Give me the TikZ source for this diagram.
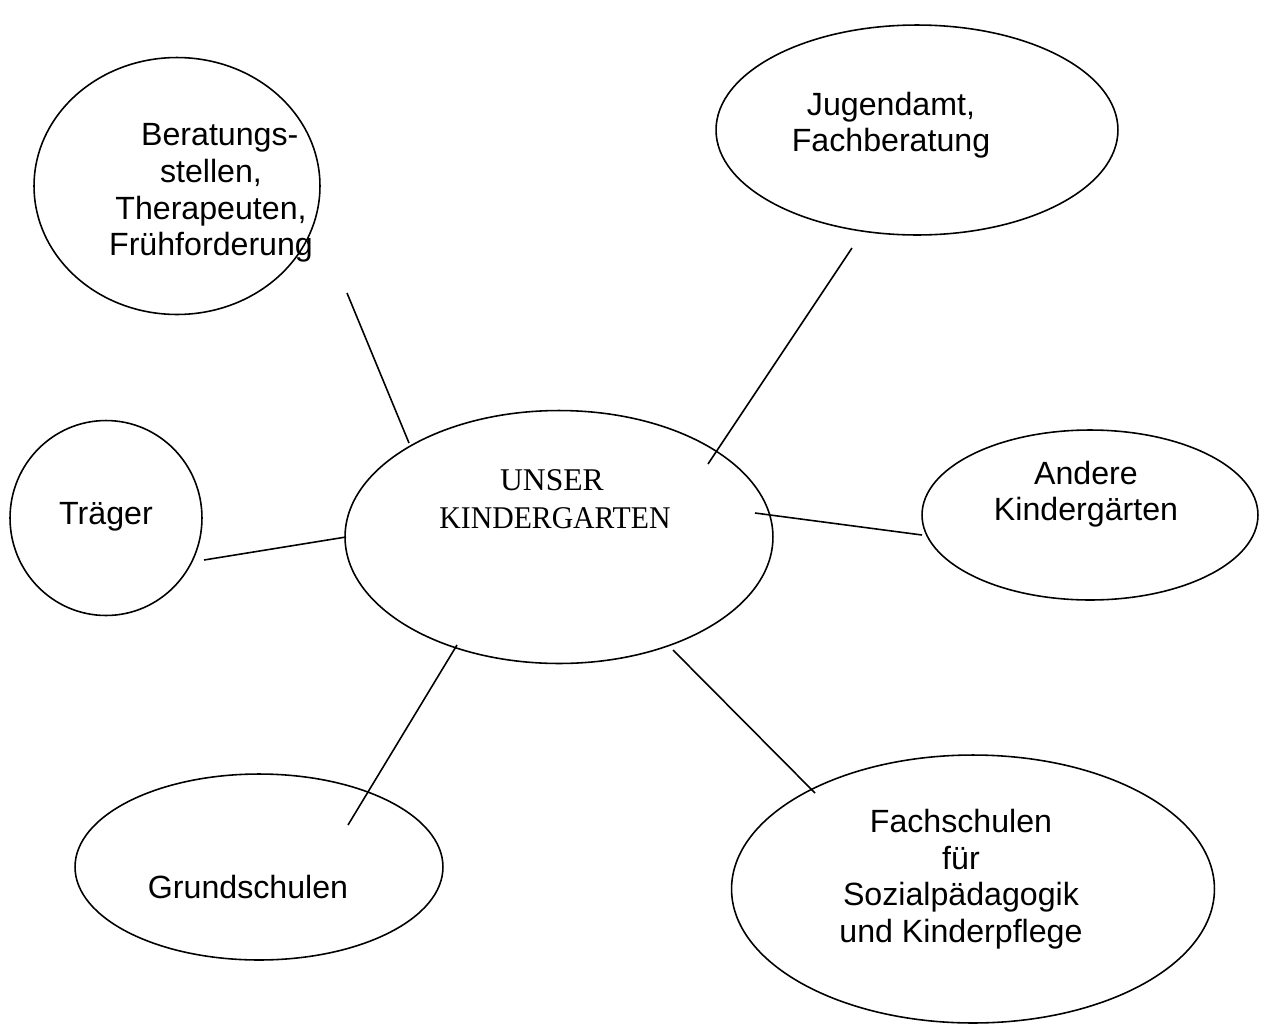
\documentclass[tikz,border=0pt]{standalone}
\usepackage{fontspec}
\setmainfont{Liberation Sans}
\newfontfamily\hubfont{Liberation Serif}
\usetikzlibrary{shapes.geometric}

\begin{document}
\begin{tikzpicture}[
    x=0.02cm, y=-0.02cm,
    bubble/.style={ellipse, draw, line width=0.9pt, inner sep=0pt},
    lbl/.style={align=center, font=\fontsize{18.3}{20.8}\selectfont},
    hublbl/.style={align=left, font=\hubfont\fontsize{18}{21.5}\selectfont},
    link/.style={line width=0.9pt}
  ]
  \useasboundingbox (0,0) rectangle (1262,1025);

  % --- 1. ellipses ---
  \node[bubble, minimum width=8.56cm, minimum height=5.06cm] (hub) at (559,537) {};
  \node[bubble, minimum width=5.72cm, minimum height=5.14cm] (ber) at (177,186) {};
  \node[bubble, minimum width=8.04cm, minimum height=4.20cm] (jug) at (917,130) {};
  \node[bubble, minimum width=3.84cm, minimum height=3.90cm] (trae) at (106,518) {};
  \node[bubble, minimum width=6.72cm, minimum height=3.40cm] (andere) at (1090,515) {};
  \node[bubble, minimum width=7.36cm, minimum height=3.72cm] (grund) at (259,867) {};
  \node[bubble, minimum width=9.66cm, minimum height=5.36cm] (fach) at (973,889) {};

  % --- 2. texts ---
  \node[hublbl] (hub-txt) at (555,499) {\hspace*{34.5pt}UNSER\\\scalebox{0.94}[1]{KINDERGARTEN}};
  \node[lbl] (ber-txt) at (211,193) {\hspace*{0.35cm}Beratungs-\\stellen,\\Therapeuten,\\Frühforderung};
  \node[lbl] (jug-txt) at (891,125) {Jugendamt,\\Fachberatung};
  \node[lbl] (trae-txt) at (106,517) {Träger};
  \node[lbl] (andere-txt) at (1086,494) {Andere\\Kindergärten};
  \node[lbl] (grund-txt) at (248,887) {Grundschulen};
  \node[lbl] (fach-txt) at (961,879) {Fachschulen\\für\\Sozialpädagogik\\und Kinderpflege};

  % --- 3. links ---
  \coordinate (ber-end) at (347,293);   \coordinate (hub-ber) at (409,443);
  \coordinate (jug-end) at (852,248);   \coordinate (hub-jug) at (708,464);
  \coordinate (andere-end) at (922,535); \coordinate (hub-andere) at (755,513);
  \coordinate (trae-end) at (204,560);  \coordinate (hub-trae) at (346,537);
  \coordinate (grund-end) at (348,825); \coordinate (hub-grund) at (457,645);
  \coordinate (fach-end) at (815,793);  \coordinate (hub-fach) at (673,650);

  \draw[link] (ber-end) -- (hub-ber);
  \draw[link] (jug-end) -- (hub-jug);
  \draw[link] (andere-end) -- (hub-andere);
  \draw[link] (trae-end) -- (hub-trae);
  \draw[link] (grund-end) -- (hub-grund);
  \draw[link] (fach-end) -- (hub-fach);
\end{tikzpicture}
\end{document}
